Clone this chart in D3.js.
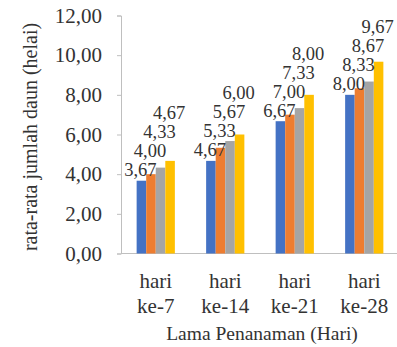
<!DOCTYPE html>
<html>
<head>
<meta charset="utf-8">
<script src="https://cdn.jsdelivr.net/npm/d3@7"></script>
<style>
  html, body { margin: 0; padding: 0; background: #fff; }
  svg { display: block; }
  svg text { font-family: 'Liberation Serif', 'Times New Roman', Times, 'DejaVu Serif', serif !important; fill: #333; }
</style>
</head>
<body>
<svg id="chart" width="397" height="347"></svg>
<script>
// ---- data ----
const categories = ["hari ke-7", "hari ke-14", "hari ke-21", "hari ke-28"];
const seriesNames = ["S1", "S2", "S3", "S4"];
const s1 = [3.67, 4.67, 6.67, 8.00];
const s2 = [4.00, 5.33, 7.00, 8.33];
const s3 = [4.33, 5.67, 7.33, 8.67];
const s4 = [4.67, 6.00, 8.00, 9.67];
const yTicks = [0, 2, 4, 6, 8, 10, 12];
const colors = ["#4472C4", "#ED7D31", "#A5A5A5", "#FFC000"];
const yTitle = "rata-rata jumlah daun (helai)";
const xTitle = "Lama Penanaman (Hari)";

const seriesValues = [s1, s2, s3, s4];
const fmt = v => v.toFixed(2).replace(".", ",");
const FONT = "'Liberation Serif', 'Times New Roman', Times, serif";

const svg = d3.select("#chart");

const y = d3.scaleLinear().domain([0, 12]).range([253.5, 15.5]);
const x0 = d3.scaleBand().domain(categories).range([121, 399])
  .paddingInner(0.45).paddingOuter(0.225);
const x1 = d3.scaleBand().domain(seriesNames).range([0, x0.bandwidth()]);

// y axis
const yAxis = d3.axisLeft(y).tickValues(yTicks).tickSize(4).tickPadding(15)
  .tickFormat(fmt);
const gy = svg.append("g").attr("transform", "translate(121,0)").call(yAxis)
  .attr("font-family", FONT);
gy.select(".domain").attr("stroke", "#bfbfbf");
gy.selectAll(".tick line").attr("stroke", "#bfbfbf");
gy.selectAll(".tick text").attr("font-size", 21).style("fill", "#333")
  .style("font-family", FONT);

// x axis baseline
svg.append("line").attr("x1", 121).attr("x2", 397)
  .attr("y1", y(0)).attr("y2", y(0)).attr("stroke", "#bfbfbf");

// bars
const groups = svg.append("g").selectAll("g").data(categories).join("g")
  .attr("transform", d => `translate(${x0(d)},0)`);

groups.each(function(cat, ci) {
  const g = d3.select(this);
  const vals = seriesValues.map(s => s[ci]);
  g.selectAll("rect").data(vals).join("rect")
    .attr("x", (d, i) => x1(seriesNames[i]))
    .attr("width", x1.bandwidth())
    .attr("y", d => y(d))
    .attr("height", d => y(0) - y(d))
    .attr("fill", (d, i) => colors[i]);

  // labels stacked to avoid overlap
  let prev = null;
  const ys = vals.map(v => {
    let c = y(v) - 11;
    if (prev !== null) c = Math.min(c, prev - 19);
    prev = c;
    return c;
  });
  g.selectAll("text.lbl").data(vals).join("text").attr("class", "lbl")
    .attr("x", (d, i) => x1(seriesNames[i]) + x1.bandwidth() / 2 - 1)
    .attr("y", (d, i) => ys[i])
    .attr("dy", "0.35em")
    .attr("text-anchor", "middle")
    .attr("font-size", 18.5)
    .style("font-family", FONT)
    .text(fmt);
});

// category labels
const cl = svg.append("g").selectAll("text").data(categories).join("text")
  .attr("x", d => x0(d) + x0.bandwidth() / 2)
  .attr("text-anchor", "middle")
  .attr("font-size", 21)
  .style("font-family", FONT);
cl.append("tspan").attr("x", d => x0(d) + x0.bandwidth() / 2).attr("y", 288)
  .text(d => d.split(" ")[0]);
cl.append("tspan").attr("x", d => x0(d) + x0.bandwidth() / 2).attr("y", 313)
  .text(d => d.split(" ")[1]);

// axis titles
svg.append("text").attr("x", 262).attr("y", 340).attr("text-anchor", "middle")
  .attr("font-size", 19.5).style("font-family", FONT).text(xTitle);
svg.append("text").attr("transform", "translate(37,137) rotate(-90)")
  .attr("text-anchor", "middle").attr("font-size", 20)
  .style("font-family", FONT).text(yTitle);
</script>
</body>
</html>
